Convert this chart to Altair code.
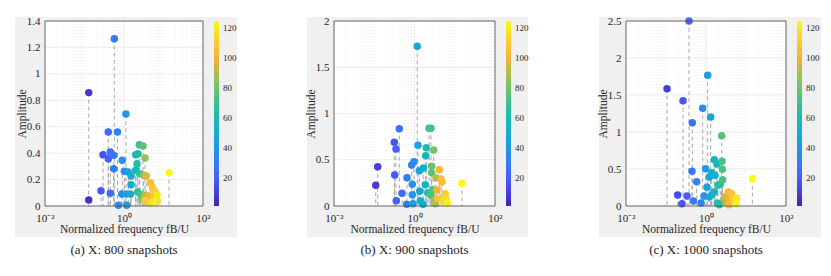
import altair as alt
import pandas as pd

# ---------------- data ----------------
# Panel (a): X, 800 snapshots
freq_a = [0.568, 0.128, 1.12, 0.40, 0.685, 0.294, 0.40, 0.451, 0.55, 0.904,
          0.55, 1.02, 1.28, 1.51, 1.98, 2.50, 3.15, 3.66, 2.44, 3.03,
          3.40, 1.98, 2.26, 2.14, 1.51, 4.63, 5.20, 6.08, 6.85, 0.262,
          0.451, 0.875, 1.14, 1.45, 2.22, 2.69, 3.40, 4.13, 5.04, 3.40,
          4.13, 5.65, 4.57, 0.718, 1.17, 13.8, 0.128, 7.05, 2.86]
amp_a = [1.266, 0.858, 0.696, 0.56, 0.56, 0.388, 0.358, 0.409, 0.384, 0.346,
         0.282, 0.263, 0.257, 0.227, 0.27, 0.245, 0.232, 0.227, 0.464, 0.454,
         0.363, 0.388, 0.396, 0.32, 0.161, 0.176, 0.144, 0.111, 0.081, 0.116,
         0.096, 0.091, 0.091, 0.091, 0.106, 0.086, 0.081, 0.076, 0.066, 0.043,
         0.036, 0.036, 0.023, 0.005, 0.005, 0.252, 0.045, 0.038, 0.053]
idx_a = [28, 8, 40, 24, 32, 16, 20, 25, 28, 36,
         30, 38, 45, 50, 56, 70, 82, 98, 70, 76,
         86, 57, 62, 63, 52, 104, 108, 112, 120, 18,
         26, 36, 44, 48, 66, 74, 90, 100, 106, 110,
         103, 122, 115, 35, 42, 125, 6, 118, 80]

# Panel (b): X, 900 snapshots
freq_b = [1.17, 0.419, 0.315, 0.347, 0.122, 0.109, 0.322, 0.353, 0.49, 0.652,
          0.64, 0.851, 0.97, 0.883, 0.883, 1.22, 1.32, 1.65, 1.35, 1.39,
          1.63, 1.85, 1.96, 1.90, 2.29, 2.57, 3.0, 2.67, 2.67, 4.14,
          3.42, 4.55, 4.82, 3.62, 2.83, 2.43, 2.13, 2.57, 3.1, 3.29,
          3.77, 5.82, 6.17, 6.53, 5.1, 15.1, 0.92]
amp_b = [1.726, 0.836, 0.689, 0.616, 0.425, 0.224, 0.335, 0.057, 0.137, 0.306,
         0.018, 0.443, 0.479, 0.234, 0.122, 0.656, 0.382, 0.411, 0.159, 0.057,
         0.018, 0.23, 0.63, 0.544, 0.84, 0.84, 0.605, 0.429, 0.36, 0.393,
         0.306, 0.292, 0.26, 0.173, 0.176, 0.133, 0.144, 0.116, 0.072, 0.025,
         0.079, 0.133, 0.079, 0.032, 0.051, 0.245, 0.025]
idx_b = [45, 26, 18, 20, 10, 8, 19, 21, 25, 30,
         30, 33, 35, 38, 40, 45, 46, 50, 47, 48,
         52, 55, 60, 58, 70, 72, 80, 78, 76, 102,
         90, 104, 106, 100, 75, 68, 62, 72, 85, 88,
         108, 112, 118, 122, 115, 125, 42]

# Panel (c): X, 1000 snapshots
freq_c = [0.376, 0.106, 0.266, 1.10, 0.826, 1.31, 0.455, 2.47, 0.447, 0.585,
          0.98, 1.61, 2.51, 1.88, 2.56, 1.39, 1.21, 1.68, 2.61, 1.06,
          2.0, 2.28, 1.61, 0.196, 0.335, 0.251, 0.482, 0.75, 0.89, 1.21,
          1.39, 1.96, 2.15, 2.82, 3.1, 3.61, 4.39, 3.76, 3.76, 4.92,
          5.85, 5.62, 2.99, 14.4]
amp_c = [2.5, 1.585, 1.423, 1.766, 1.32, 1.203, 1.126, 0.95, 0.469, 0.328,
         0.504, 0.626, 0.604, 0.567, 0.496, 0.45, 0.392, 0.415, 0.356, 0.252,
         0.279, 0.297, 0.189, 0.149, 0.135, 0.031, 0.068, 0.041, 0.135, 0.122,
         0.153, 0.036, 0.018, 0.099, 0.054, 0.189, 0.166, 0.099, 0.018, 0.099,
         0.108, 0.027, 0.122, 0.369]
idx_c = [22, 10, 18, 42, 35, 45, 26, 75, 28, 32,
         40, 55, 72, 58, 74, 50, 47, 52, 72, 45,
         62, 65, 55, 14, 20, 17, 28, 32, 38, 48,
         52, 58, 65, 80, 90, 104, 108, 100, 106, 112,
         120, 122, 95, 125]

captions = ["(a) X: 800 snapshots", "(b) X: 900 snapshots", "(c) X: 1000 snapshots"]
y_max = [1.4, 2.0, 2.5]
y_ticks = [[0, 0.2, 0.4, 0.6, 0.8, 1, 1.2, 1.4],
           [0, 0.5, 1, 1.5, 2],
           [0, 0.5, 1, 1.5, 2, 2.5]]
x_ticks = [0.01, 1, 100]
x_minor = [m * 10.0 ** k for k in (-2, -1, 0, 1) for m in range(1, 10) if not (m == 1 and k in (-2, 0))]
cbar_ticks = [20, 40, 60, 80, 100, 120]

# parula-like colormap stops (fraction of the colour range, colour)
cmap_pos = [0.00, 0.08, 0.16, 0.25, 0.33, 0.42, 0.50, 0.58, 0.66, 0.73, 0.80, 0.87, 0.94, 1.00]
cmap_col = ["#3e26a8", "#4542e0", "#4761f9", "#2f83f2", "#1c9de2", "#0fb3c8", "#22bca6",
            "#46c185", "#84c364", "#bbbc48", "#f4b23a", "#fdc535", "#f4e02a", "#f9fb15"]
c_min, c_max = 1, 125
c_domain = [c_min + (c_max - c_min) * p for p in cmap_pos]

SERIF = "Times New Roman, Liberation Serif, serif"
TXT = "#262626"
H = 185


def panel(freq, amp, idx, ymax, yticks, caption, w, lp, rp):
    df = pd.DataFrame({"f": freq, "A": amp, "c": idx}).sort_values("c")
    xs = alt.Scale(type="log", domain=[0.01, 100], nice=False)
    ys = alt.Scale(domain=[0, ymax], nice=False, zero=True)
    one = pd.DataFrame({"k": [0]})

    xaxis = alt.Axis(values=x_ticks,
                     labelExpr="datum.value < 0.1 ? '10⁻²' : (datum.value < 10 ? '10⁰' : '10²')",
                     title="Normalized frequency fB/U", grid=False, ticks=False, tickSize=0,
                     domain=False, labelFont=SERIF, labelFontSize=11, labelColor=TXT,
                     titleFont=SERIF, titleFontSize=11.5, titleFontWeight="normal",
                     titleColor=TXT, labelPadding=6, titlePadding=0, labelFlush=False,
                     labelOverlap=False, zindex=1)
    yaxis = alt.Axis(values=yticks, format="~g", title="Amplitude", grid=False,
                     ticks=False, tickSize=0, domain=False, labelFont=SERIF,
                     labelFontSize=11, labelColor=TXT, titleFont=SERIF, titleFontSize=11.5,
                     titleFontWeight="normal", titleColor=TXT, labelPadding=5,
                     titleX=-23, titleBaseline="middle", labelFlush=False,
                     labelOverlap=False, zindex=1)

    bg = alt.Chart(one).mark_rect(color="#f0f0f0").encode(
        x=alt.value(-lp), x2=alt.value(w + rp), y=alt.value(-4), y2=alt.value(H + 31))
    white = alt.Chart(one).mark_rect(color="white").encode(
        x=alt.value(0), x2=alt.value(w), y=alt.value(0), y2=alt.value(H))
    hgrid = alt.Chart(pd.DataFrame({"gy": yticks})).mark_rule(
        color="#e4e4e4", strokeWidth=0.7).encode(
        y=alt.Y("gy:Q", scale=ys, axis=yaxis), x=alt.value(0), x2=alt.value(w))
    vminor = alt.Chart(pd.DataFrame({"gx": x_minor})).mark_rule(
        color="#e2e2e2", strokeWidth=0.6, strokeDash=[1, 2]).encode(
        x=alt.X("gx:Q", scale=xs, axis=xaxis), y=alt.value(0), y2=alt.value(H))
    vmajor = alt.Chart(pd.DataFrame({"gx": x_ticks})).mark_rule(
        color="#e4e4e4", strokeWidth=0.7).encode(
        x=alt.X("gx:Q", scale=xs, axis=xaxis), y=alt.value(0), y2=alt.value(H))

    stems = alt.Chart(df).mark_rule(color="#a8a8a8", strokeWidth=1, strokeDash=[4, 3]).encode(
        x=alt.X("f:Q", scale=xs, axis=xaxis),
        y=alt.Y("A:Q", scale=ys, axis=yaxis),
        y2=alt.datum(0))

    pts = alt.Chart(df).mark_circle(size=56, opacity=1, strokeWidth=0).encode(
        x=alt.X("f:Q", scale=xs, axis=xaxis),
        y=alt.Y("A:Q", scale=ys, axis=yaxis),
        color=alt.Color("c:Q",
                        scale=alt.Scale(domain=c_domain, range=cmap_col, interpolate="rgb"),
                        legend=alt.Legend(orient="none", legendX=w + 11, legendY=0,
                                          direction="vertical", gradientLength=H,
                                          gradientThickness=5, title=None,
                                          values=cbar_ticks, labelFont=SERIF,
                                          labelFontSize=9, labelColor=TXT,
                                          labelOffset=4, gradientStrokeWidth=0,
                                          padding=0)))

    frame = alt.Chart(one).mark_rect(filled=False, stroke="#4a4a4a", strokeWidth=0.8).encode(
        x=alt.value(0), x2=alt.value(w), y=alt.value(0), y2=alt.value(H))

    return alt.layer(bg, white, hgrid, vminor, vmajor, stems, pts, frame).properties(
        width=w, height=H,
        title=alt.TitleParams(text=caption, orient="bottom", offset=7, font=SERIF,
                              fontSize=13, fontWeight="normal", color="#222222",
                              anchor="middle", baseline="top"))


pa = panel(freq_a, amp_a, idx_a, y_max[0], y_ticks[0], captions[0], 158, 30, 34)
pb = panel(freq_b, amp_b, idx_b, y_max[1], y_ticks[1], captions[1], 161, 27, 33)
pc = panel(freq_c, amp_c, idx_c, y_max[2], y_ticks[2], captions[2], 160, 27, 35)

chart = alt.hconcat(pa, pb, pc, spacing=68).resolve_scale(
    x="independent", y="independent", color="independent"
).resolve_legend(color="independent").properties(
    padding={"left": 7, "top": 7, "right": 0, "bottom": 0}
).configure_view(strokeWidth=0)

chart.save("out.html", embed_options={"renderer": "svg", "actions": False})
